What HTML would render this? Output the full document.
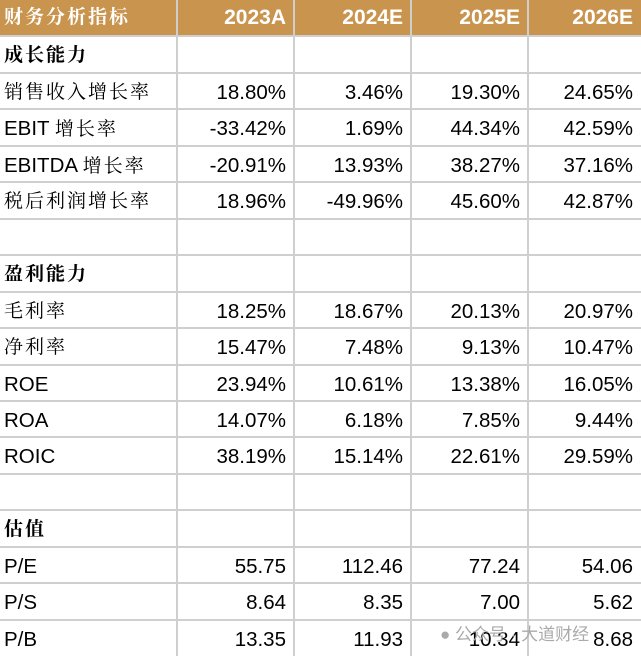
<!DOCTYPE html>
<html><head><meta charset="utf-8"><style>
body{margin:0;width:641px;height:656px;overflow:hidden;background:#fff;font-family:"Liberation Sans","Noto Sans CJK SC",sans-serif;}
.r{position:absolute;left:0;width:641px;height:36px;}
.c{position:absolute;top:0;height:36px;line-height:40px;font-size:20.5px;color:#000;white-space:nowrap;}
.l{left:4px;}
.zh{font-family:"Liberation Serif","Noto Serif CJK SC",serif;letter-spacing:2px;font-size:19px;}
.n{text-align:right;}
.hl{position:absolute;left:0;width:641px;height:2px;background:#cfcfcf;}
.vl{position:absolute;top:0;width:2px;height:656px;background:#cfcfcf;}
</style></head><body>
<div style="position:absolute;left:0;top:0;width:641px;height:35px;background:#c8944e"></div>
<div id="g"></div>
<script>
const rows=[
["财务分析指标","2023A","2024E","2025E","2026E","h"],
["成长能力","","","","","b"],
["销售收入增长率","18.80%","3.46%","19.30%","24.65%","z"],
["EBIT 增长率","-33.42%","1.69%","44.34%","42.59%",""],
["EBITDA 增长率","-20.91%","13.93%","38.27%","37.16%",""],
["税后利润增长率","18.96%","-49.96%","45.60%","42.87%","z"],
["","","","","",""],
["盈利能力","","","","","b"],
["毛利率","18.25%","18.67%","20.13%","20.97%","z"],
["净利率","15.47%","7.48%","9.13%","10.47%","z"],
["ROE","23.94%","10.61%","13.38%","16.05%",""],
["ROA","14.07%","6.18%","7.85%","9.44%",""],
["ROIC","38.19%","15.14%","22.61%","29.59%",""],
["","","","","",""],
["估值","","","","","b"],
["P/E","55.75","112.46","77.24","54.06",""],
["P/S","8.64","8.35","7.00","5.62",""],
["P/B","13.35","11.93","10.34","8.68",""]];
const cols=[177,294,411,528,641];
const H=36.45;let h="";
rows.forEach((r,i)=>{
 const top=Math.round(i*H);
 h+=`<div class="r" style="top:${top}px">`;
 let st=r[5]=="h"?'color:#fff;font-weight:bold;':'';
 let lab=r[0];
 if(r[5]=="h"||r[5]=="b"||r[5]=="z"){
  h+=`<div class="c l zh" style="${st}${r[5]=="b"?'font-weight:bold;color:#000;':''}${r[5]=='h'?'line-height:36px;':''}">${lab}</div>`;
 } else {
  h+=`<div class="c l" style="${st}">${lab.replace('增长率','<span class="zh">增长率</span>')}</div>`;
 }
 for(let k=1;k<5;k++){
  const x0=cols[k-1],x1=cols[k];
  h+=`<div class="c n" style="${st}${r[5]=='h'?'font-size:21px;line-height:36px;':''}left:${x0}px;width:${x1-x0-8}px">${r[k]}</div>`;
 }
 h+='</div>';
 if(i>0)h+=`<div class="hl" style="top:${top-1}px"></div>`;
});
[176,293,410,527].forEach(x=>h+=`<div class="vl" style="left:${x}px"></div>`);
h+=`<div style="position:absolute;left:440px;top:620px;font-size:17px;color:#aaa;font-family:'Liberation Sans','Noto Sans CJK SC',sans-serif">● 公众号 · 大道财经</div>`;
document.getElementById('g').innerHTML=h;
</script>
</body></html>
